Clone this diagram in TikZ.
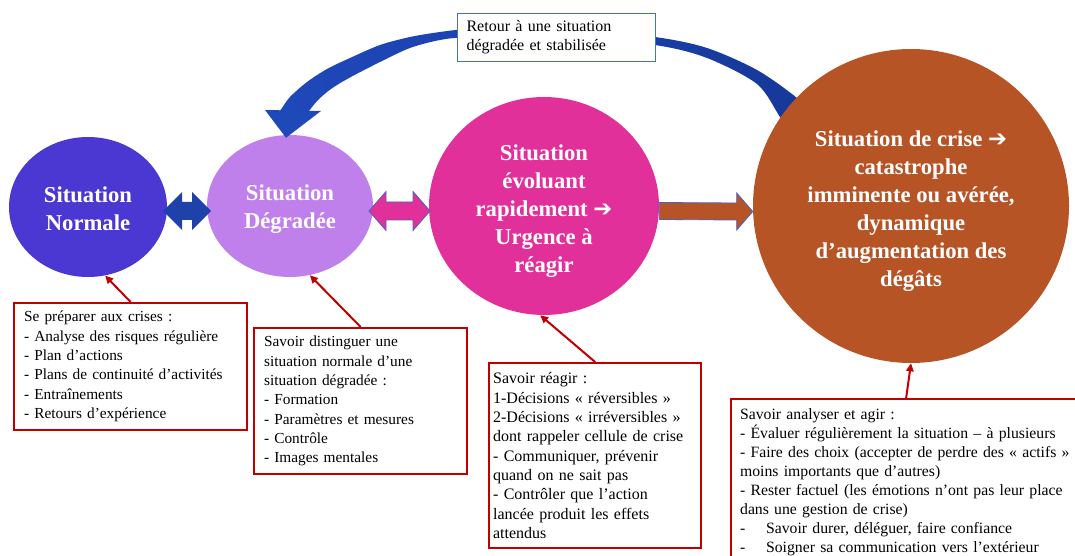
\documentclass[tikz,border=0pt]{standalone}
\usepackage{fontspec}
\setmainfont{Liberation Serif}
\newfontfamily\dejavu{DejaVu Sans}
\usetikzlibrary{calc,arrows.meta,shapes.geometric}
\definecolor{cNorm}{HTML}{4B37D2}
\definecolor{cDeg}{HTML}{C080EB}
\definecolor{cPink}{HTML}{E2309A}
\definecolor{cBrown}{HTML}{B75426}
\definecolor{cBlueArr}{HTML}{1E41AA}
\definecolor{cArcL}{HTML}{1F48B9}
\definecolor{cArcR}{HTML}{16389A}
\definecolor{cOutline}{HTML}{4A62C2}
\definecolor{cRed}{HTML}{C00000}
\definecolor{cTopB}{HTML}{4472C4}
\pgfdeclarelayer{bg}
\pgfsetlayers{bg,main}
\newcommand{\arr}{{\dejavu\mdseries ➔}}
\newcommand{\up}[1]{\rule{0pt}{#1}}
\begin{document}
\begin{tikzpicture}[x=0.75pt,y=-0.75pt,
  ell/.style={ellipse, inner sep=0pt, text=white, align=center,
    font=\fontsize{17pt}{21pt}\selectfont\bfseries},
  tbox/.style={draw=cRed, line width=1.7pt, fill=white, anchor=north west,
    align=left, font=\fontsize{11.5pt}{14.5pt}\selectfont, inner ysep=0pt},
  redarrow/.style={draw=cRed, line width=1.5pt, -{Triangle[length=6pt,width=5.5pt]}},
  outl/.style={draw=cOutline, line width=0.6pt}
]
\useasboundingbox (0,0) rectangle (1075,556);
\clip (0,0) rectangle (1075,556);

% ellipses
\node[ell, fill=cNorm, minimum width=118.5pt, minimum height=105pt] (normale) at (88,207) {\up{14pt}Situation\\Normale};
\node[ell, fill=cDeg, minimum width=124.5pt, minimum height=106.5pt] (degradee) at (290,206) {\up{16.5pt}Situation\\Dégradée};
\node[ell, fill=cPink, minimum width=172.5pt, minimum height=163.5pt] (pink) at (544,206) {\up{19.5pt}Situation\\évoluant\\rapidement \arr\\Urgence à\\réagir};
\node[ell, fill=cBrown, minimum width=237pt, minimum height=235.5pt] (brown) at (911,206) {\up{19.5pt}Situation de crise \arr\\catastrophe\\imminente ou avérée,\\dynamique\\d’augmentation des\\dégâts};

% curved return arrow (behind)
\begin{pgfonlayer}{bg}
\shade[left color=cArcL, right color=cArcR]
  plot[smooth] coordinates {(280,111) (290,97) (307,82) (327,69) (350,58) (380,45) (410,37) (440,32) (470,29) (555,26) (655,37) (707,48) (757,70) (797,98) (815,118)}
  -- plot[smooth] coordinates {(790,130) (780,117) (757,84) (707,58) (655,45) (555,35) (470,37) (440,40) (410,48) (380,62) (349,78) (331,89) (318,100) (309,111)}
  -- cycle;
\end{pgfonlayer}
\coordinate (arctip) at ($(degradee.north)+(-4,3)$);
\fill[cArcL] (265,110) -- (321,111) -- (arctip) -- cycle;

% top label
\node[draw=cTopB, line width=0.8pt, fill=white, anchor=north west,
  minimum width=148.5pt, minimum height=36pt, text width=135pt,
  inner xsep=6.75pt, inner ysep=0pt, align=left,
  font=\fontsize{12pt}{14.25pt}\selectfont] (retour) at (457,13)
  {Retour à une situation\\dégradée et stabilisée};

% double arrow normale <-> degradee
\coordinate (m1) at ($($(normale.east)!0.5!(degradee.west)$)+(0,4.5)$);
\fill[cBlueArr] ($(m1)+(-24,0)$) -- ($(m1)+(-5,-19)$) -- ($(m1)+(-5,-9)$) -- ($(m1)+(5,-9)$)
  -- ($(m1)+(5,-19)$) -- ($(m1)+(24,0)$) -- ($(m1)+(5,19)$) -- ($(m1)+(5,9)$)
  -- ($(m1)+(-5,9)$) -- ($(m1)+(-5,19)$) -- cycle;

% double arrow degradee <-> pink
\coordinate (m2) at ($($(degradee.east)!0.5!(pink.west)$)+(-1.5,5)$);
\filldraw[fill=cPink, outl] ($(m2)+(-30.5,0)$) -- ($(m2)+(-13.5,-19.5)$) -- ($(m2)+(-13.5,-9)$) -- ($(m2)+(13.5,-9)$)
  -- ($(m2)+(13.5,-19.5)$) -- ($(m2)+(30.5,0)$) -- ($(m2)+(13.5,19.5)$) -- ($(m2)+(13.5,9)$)
  -- ($(m2)+(-13.5,9)$) -- ($(m2)+(-13.5,19.5)$) -- cycle;

% arrow pink -> brown
\coordinate (ba1) at ($(pink.east)+(0,5)$);
\coordinate (ba2) at ($(brown.west)+(0,5.5)$);
\filldraw[fill=cBrown, outl] ($(ba1)+(0,-8.5)$) -- ($(ba2)+(-16,-8.5)$) -- ($(ba2)+(-16,-18.5)$) -- (ba2)
  -- ($(ba2)+(-16,18.5)$) -- ($(ba2)+(-16,8.5)$) -- ($(ba1)+(0,8.5)$) -- cycle;

% text boxes
\node[tbox, text width=159.75pt, inner xsep=7.5pt, minimum height=95.25pt] (b1) at (13,302)
 {Se préparer aux crises :\\- Analyse des risques régulière\\- Plan d’actions\\- Plans de continuité d’activités\\- Entraînements\\- Retours d’expérience};
\node[tbox, text width=144.75pt, inner xsep=7.5pt, minimum height=109.5pt] (b2) at (253,327)
 {Savoir distinguer une\\situation normale d’une\\situation dégradée :\\- Formation\\- Paramètres et mesures\\- Contrôle\\- Images mentales};
\node[tbox, text width=153pt, inner xsep=3pt, minimum height=138.75pt,
  font=\fontsize{12pt}{14.5pt}\selectfont] (b3) at (488,362)
 {Savoir réagir :\\1-Décisions «~réversibles~»\\2-Décisions «~irréversibles~»\\dont rappeler cellule de crise\\- Communiquer, prévenir\\quand on ne sait pas\\- Contrôler que l’action\\lancée produit les effets\\attendus};
\node[tbox, text width=249pt, inner xsep=6.75pt, inner ysep=7pt,
  font=\fontsize{11.8pt}{14.3pt}\selectfont] (b4) at (730,398)
 {\mbox{Savoir analyser et agir :}\\\mbox{- Évaluer régulièrement la situation – à plusieurs}\\\mbox{- Faire des choix (accepter de perdre des «~actifs~»}\\\mbox{moins importants que d’autres)}\\\mbox{- Rester factuel (les émotions n’ont pas leur place}\\\mbox{dans une gestion de crise)}\\\mbox{\makebox[19.5pt][l]{-}Savoir durer, déléguer, faire confiance}\\\mbox{\makebox[19.5pt][l]{-}Soigner sa communication vers l’extérieur}};

% red connectors
\draw[redarrow] (b1.north) -- (normale.284);
\draw[redarrow] (b2.north) -- (degradee.286);
\draw[redarrow] (b3.north) -- (pink.268);
\draw[redarrow] (b4.north) -- (brown.south);
\end{tikzpicture}
\end{document}
